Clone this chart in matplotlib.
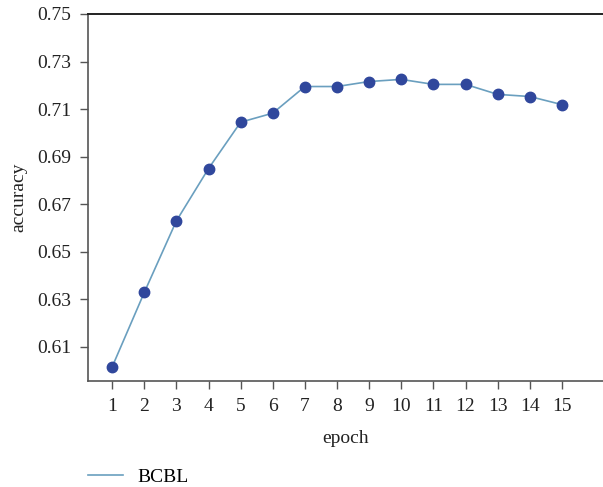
import matplotlib
matplotlib.use("Agg")
import matplotlib.pyplot as plt
from matplotlib.lines import Line2D

epochs = list(range(1, 16))
accuracy = [0.6016, 0.6329, 0.6630, 0.6850, 0.7045, 0.7083, 0.7195, 0.7195,
            0.7216, 0.7225, 0.7204, 0.7204, 0.7162, 0.7153, 0.7119]
yticks = [0.61, 0.63, 0.65, 0.67, 0.69, 0.71, 0.73, 0.75]
series_name = "BCBL"

plt.rcParams['font.family'] = ['Liberation Serif', 'DejaVu Serif']

fig = plt.figure(figsize=(6.03, 4.87), dpi=100)
ax = fig.add_axes([0.146, 0.2177, 0.854, 0.7536])

line_color = "#6a9fbf"
ax.plot(epochs, accuracy, color=line_color, lw=1.2,
        marker="o", markersize=7.5, markerfacecolor="#30479c",
        markeredgecolor="#30479c")

ax.set_xlim(0.25, 16.28)
ax.set_ylim(0.5957, 0.75)
ax.set_xticks(epochs)
ax.set_yticks(yticks)
ax.set_yticklabels([f"{v:.2f}" for v in yticks])

ax.spines['right'].set_visible(False)
ax.spines['top'].set_color("#222222")
ax.spines['top'].set_linewidth(1.4)
for s in ('left', 'bottom'):
    ax.spines[s].set_color("#555555")
    ax.spines[s].set_linewidth(1.2)
ax.tick_params(axis='both', direction='out', length=6, width=1.0,
               color="#555555", labelsize=14, labelcolor="#222222", pad=6)

ax.set_xlabel("epoch", fontsize=14, color="#222222", labelpad=11)
ax.set_ylabel("accuracy", fontsize=14, color="#222222", labelpad=7)

handle = Line2D([], [], color=line_color, lw=1.2)
fig.legend(handles=[handle], labels=[series_name], loc="center left",
           bbox_to_anchor=(88 / 603, 1 - 477 / 487), frameon=False,
           fontsize=14, handlelength=1.8, handletextpad=0.75,
           borderpad=0, borderaxespad=0)

fig.savefig("out.png", dpi=100)
